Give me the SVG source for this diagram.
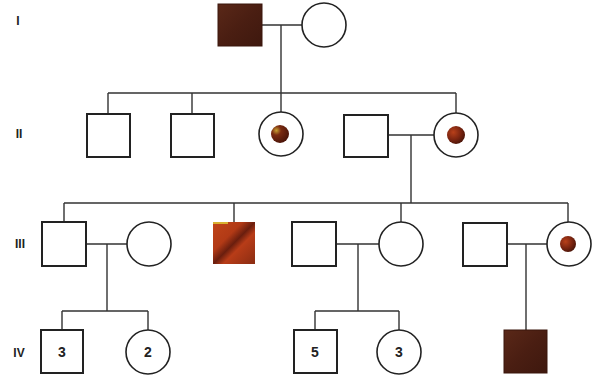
<svg xmlns="http://www.w3.org/2000/svg" width="592" height="377" viewBox="0 0 592 377">
<style>
.sq{fill:#fff;stroke:#222;stroke-width:2}
.ci{fill:#fff;stroke:#222;stroke-width:1.6}
.ln{fill:none;stroke:#333;stroke-width:1.4}
.gl{font-family:"Liberation Sans",Arial,sans-serif;font-weight:bold;font-size:12px;fill:#222;text-anchor:middle;dominant-baseline:central}
.num{font-family:"Liberation Sans",Arial,sans-serif;font-weight:bold;font-size:14px;fill:#222;text-anchor:middle;dominant-baseline:central}
.dot{fill:url(#dotg)}
.aff{fill:#4a1e12;stroke:#3a160c;stroke-width:1}
</style>
<defs>
<radialGradient id="dotg" cx="0.35" cy="0.35" r="0.7">
<stop offset="0" stop-color="#b8401a"/>
<stop offset="0.6" stop-color="#7a2410"/>
<stop offset="1" stop-color="#4a1408"/>
</radialGradient>
<radialGradient id="dotg2" cx="0.3" cy="0.3" r="0.75">
<stop offset="0" stop-color="#c8a030"/>
<stop offset="0.35" stop-color="#7a2a10"/>
<stop offset="1" stop-color="#4a1408"/>
</radialGradient>
<linearGradient id="redg" x1="0" y1="0" x2="1" y2="1">
<stop offset="0" stop-color="#c04418"/>
<stop offset="0.35" stop-color="#b23a16"/>
<stop offset="0.5" stop-color="#6a1e0e"/>
<stop offset="0.62" stop-color="#b83c18"/>
<stop offset="1" stop-color="#8a2c12"/>
</linearGradient>
<linearGradient id="browng" x1="0" y1="0" x2="1" y2="1">
<stop offset="0" stop-color="#5a2818"/>
<stop offset="0.5" stop-color="#4a1e12"/>
<stop offset="1" stop-color="#3e180e"/>
</linearGradient>
</defs>
<rect width="592" height="377" fill="#fff"/>
<g id="gen-labels">
<text class="gl" x="18" y="21">I</text>
<text class="gl" x="19" y="134">II</text>
<text class="gl" x="20" y="244">III</text>
<text class="gl" x="19" y="353">IV</text>
</g>
<g id="connectors">
<path class="ln" d="M262 25H302M281 25V93M108 93H456M108 93V114M192 93V114M281 93V112M456 93V113"/>
<path class="ln" d="M388 135H434M411 135V203M64 203H568M64 203V222M234 203V222M401 203V222M568 203V222"/>
<path class="ln" d="M86 244H127M107 244V311M62 311H148M62 311V330M148 311V330"/>
<path class="ln" d="M336 244H379M358 244V311M315 311H399M315 311V330M399 311V330"/>
<path class="ln" d="M507 244H547M526 244V330"/>
</g>
<g id="I-1"><rect x="218" y="4" width="44" height="42" fill="url(#browng)" stroke="#3a160c" stroke-width="1"/></g>
<g id="I-2"><circle class="ci" cx="324" cy="25" r="22"/></g>
<g id="II-1"><rect class="sq" x="87" y="114" width="43" height="43"/></g>
<g id="II-2"><rect class="sq" x="171" y="114" width="43" height="43"/></g>
<g id="II-3"><circle class="ci" cx="281" cy="134" r="22" stroke-width="1.2"/><circle cx="280" cy="134" r="9" fill="url(#dotg2)"/></g>
<g id="II-4"><rect class="sq" x="344" y="115" width="44" height="42"/></g>
<g id="II-5"><circle class="ci" cx="456" cy="135" r="22" stroke-width="1.2"/><circle class="dot" cx="456" cy="135" r="9"/></g>
<g id="III-1"><rect class="sq" x="42" y="222" width="44" height="44"/></g>
<g id="III-2"><circle class="ci" cx="149" cy="244" r="22"/></g>
<g id="III-3"><rect x="213" y="222" width="42" height="42" fill="url(#redg)"/><path d="M213 222H228L228 224H213Z" fill="#d8b030"/></g>
<g id="III-4"><rect class="sq" x="292" y="222" width="44" height="44"/></g>
<g id="III-5"><circle class="ci" cx="401" cy="244" r="22"/></g>
<g id="III-6"><rect class="sq" x="463" y="223" width="44" height="43"/></g>
<g id="III-7"><circle class="ci" cx="569" cy="244" r="22" stroke-width="1.2"/><circle class="dot" cx="568" cy="244" r="8"/></g>
<g id="IV-1"><rect class="sq" x="41" y="330" width="42" height="43"/><text class="num" x="62" y="352">3</text></g>
<g id="IV-2"><circle class="ci" cx="148" cy="352" r="22"/><text class="num" x="148" y="352">2</text></g>
<g id="IV-3"><rect class="sq" x="294" y="330" width="43" height="43"/><text class="num" x="315" y="352">5</text></g>
<g id="IV-4"><circle class="ci" cx="399" cy="352" r="22"/><text class="num" x="399" y="352">3</text></g>
<g id="IV-5"><rect x="504" y="330" width="43" height="43" fill="url(#browng)" stroke="#3a160c" stroke-width="1"/></g>
</svg>
